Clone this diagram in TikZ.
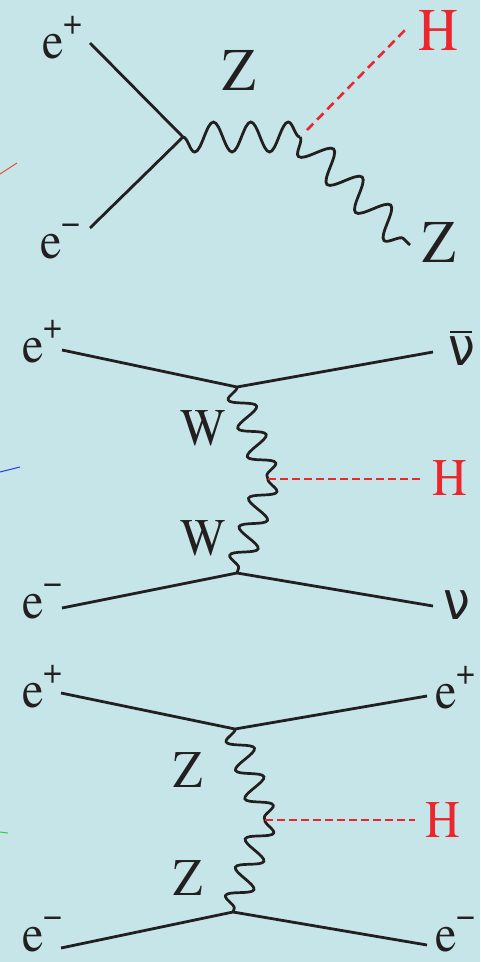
\documentclass[tikz,border=0pt]{standalone}
\usepackage{fontspec}
\IfFontExistsTF{TeX Gyre Termes}{\newfontfamily\lbfont{TeX Gyre Termes}}{\newfontfamily\lbfont{Latin Modern Roman}}
\IfFontExistsTF{TeX Gyre Termes Math}{\newfontfamily\nufont{TeX Gyre Termes Math}[FakeSlant=-0.18]}{\newfontfamily\nufont{DejaVu Sans}}
\usepackage{graphicx}
\usetikzlibrary{decorations.pathmorphing}
\definecolor{bgc}{RGB}{198,229,233}
\definecolor{ink}{RGB}{35,31,32}
\definecolor{hred}{RGB}{236,38,45}
\definecolor{fragred}{RGB}{240,80,40}
\definecolor{fragblue}{RGB}{40,60,240}
\definecolor{fraggreen}{RGB}{50,210,50}
\newcommand{\tallbox}[1]{\scalebox{1}[1.1]{#1}}
\newcommand{\esup}[1]{\raisebox{0.44em}{\scalebox{0.7}{#1}}}
\newcommand{\nubar}{\rlap{\kern0.03em\rule[0.6em]{0.47em}{0.045em}}{\nufont ν}}
\tikzset{
  lbl/.style={inner sep=0pt, anchor=base west, text=ink, font=\lbfont\fontsize{48}{48}\selectfont},
  lblbig/.style={lbl, font=\lbfont\fontsize{55}{55}\selectfont},
  hlbl/.style={text=hred},
  fermion/.style={draw=ink, line width=2.8pt},
  higgs/.style={draw=hred, line width=2.2pt, dash pattern=on 7.5pt off 4.5pt},
  photonbig/.style={draw=ink, line width=2.8pt, decorate, decoration={snake, segment length=37.4pt, amplitude=15pt}},
  photon/.style={draw=ink, line width=2.7pt, decorate, decoration={snake, segment length=30pt, amplitude=12.5pt}},
  frag/.style={line width=1pt},
}
\begin{document}
\begin{tikzpicture}[x=1pt,y=-1pt]
\useasboundingbox (0,0) rectangle (480,962);
\fill[bgc] (0,0) rectangle (480,962);

% stray fragments at the left edge
\coordinate (fr1) at (0,174); \coordinate (fr2) at (17,163);
\coordinate (fb1) at (0,472); \coordinate (fb2) at (20,467);
\coordinate (fg1) at (0,832); \coordinate (fg2) at (8,833);
\draw[frag, fragred] (fr1) -- (fr2);
\draw[frag, fragblue] (fb1) -- (fb2);
\draw[frag, fraggreen] (fg1) -- (fg2);

% ---------------- diagram 1 ----------------
\node[lbl] (d1ep) at (42,58) {\tallbox{e\esup{+}}};
\node[lbl] (d1em) at (40,258) {\tallbox{e\esup{−}}};
\node[lblbig] (d1z) at (222,90) {\tallbox{Z}};
\node[lblbig,hlbl] (d1h) at (418,50) {\tallbox{H}};
\node[lblbig] (d1z2) at (422,262) {\tallbox{Z}};
\coordinate (d1a) at (90,43);
\coordinate (d1b) at (90,228);
\coordinate (d1v) at (183,137);
\coordinate (d1w) at (300,137);
\coordinate (d1e) at (410,245);
\coordinate (d1hs) at (307,130);
\coordinate (d1he) at (408,27);
\draw[fermion] (d1a) -- (d1v) -- (d1b);
\draw[photonbig, decoration={mirror}] (d1v) -- (d1w);
\draw[photonbig, decoration={mirror, segment length=40pt}] (d1w) -- (d1e);
\draw[higgs, line width=2.6pt, dash pattern=on 9pt off 5.5pt] (d1hs) -- (d1he);

% ---------------- diagram 2 ----------------
\node[lbl] (d2ep) at (22,362) {\tallbox{e\esup{+}}};
\node[lbl] (d2nb) at (448,365) {\tallbox{\nubar}};
\node[lbl] (d2w1) at (180,445) {\tallbox{W}};
\node[lbl] (d2w2) at (180,555) {\tallbox{W}};
\node[lbl,hlbl] (d2h) at (432,495) {\tallbox{H}};
\node[lbl] (d2em) at (22,618) {\tallbox{e\esup{−}}};
\node[lbl] (d2nu) at (443,619) {\tallbox{\nufont ν}};
\coordinate (d2a) at (62,350);
\coordinate (d2v1) at (237,387);
\coordinate (d2b) at (433,352);
\coordinate (d2c) at (62,608);
\coordinate (d2v2) at (237,573);
\coordinate (d2d) at (433,606);
\coordinate (d2m) at (268,479);
\coordinate (d2he) at (422,479);
\draw[fermion] (d2a) -- (d2v1) -- (d2b);
\draw[fermion] (d2c) -- (d2v2) -- (d2d);
\draw[photon, decoration={mirror}] (d2v1) -- (d2m);
\draw[photon] (d2m) -- (d2v2);
\draw[higgs] (d2m) -- (d2he);

% ---------------- diagram 3 ----------------
\node[lbl] (d3ep) at (22,707) {\tallbox{e\esup{+}}};
\node[lbl] (d3ep2) at (435,708) {\tallbox{e\esup{+}}};
\node[lbl] (d3z1) at (173,787) {\tallbox{Z}};
\node[lbl] (d3z2) at (173,895) {\tallbox{Z}};
\node[lbl,hlbl] (d3h) at (425,837) {\tallbox{H}};
\node[lbl] (d3em) at (22,951) {\tallbox{e\esup{−}}};
\node[lbl] (d3em2) at (435,951) {\tallbox{e\esup{−}}};
\coordinate (d3a) at (61,693);
\coordinate (d3v1) at (235,729);
\coordinate (d3b) at (427,696);
\coordinate (d3c) at (61,948);
\coordinate (d3v2) at (233,912);
\coordinate (d3d) at (427,945);
\coordinate (d3m) at (265,820);
\coordinate (d3he) at (415,820);
\draw[fermion] (d3a) -- (d3v1) -- (d3b);
\draw[fermion] (d3c) -- (d3v2) -- (d3d);
\draw[photon, decoration={mirror}] (d3v1) -- (d3m);
\draw[photon] (d3m) -- (d3v2);
\draw[higgs] (d3m) -- (d3he);
\end{tikzpicture}
\end{document}
